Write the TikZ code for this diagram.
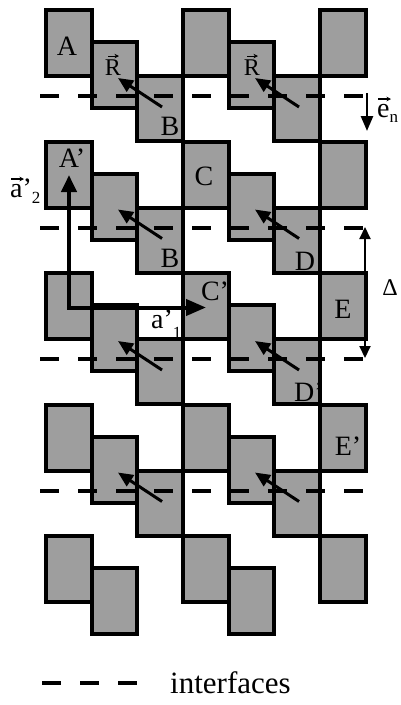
\documentclass[tikz,border=0pt]{standalone}
\usepackage{fontspec}
\setmainfont{Liberation Serif}
\usetikzlibrary{arrows.meta}
\begin{document}
\begin{tikzpicture}[x=1pt,y=-1pt,
  sq/.style={draw=black,line width=4pt,fill=black!38},
  iface/.style={line width=4pt,dash pattern=on 19pt off 19pt},
  rarrow/.style={line width=3pt,-{Triangle[length=15pt,width=13pt]}},
  lbl/.style={font=\fontsize{28}{28}\selectfont,inner sep=0pt,anchor=base},
  sublbl/.style={font=\fontsize{17}{17}\selectfont,inner sep=0pt,anchor=base west},
  vecmark/.style={line width=1.1pt,-{Stealth[length=4.5pt,width=4.5pt]}},
]
\useasboundingbox (0,0) rectangle (401,705);
% squares
\foreach \r in {0,...,4}{
  \pgfmathsetmacro{\yy}{10+131.5*\r}
  \foreach \c in {0,1}{
    \pgfmathsetmacro{\xx}{46+137*\c}
    \draw[sq] (\xx,\yy) rectangle ++(46,66);
    \draw[sq] (\xx+46,\yy+32) rectangle ++(45,66);
    \ifnum\r<4 \draw[sq] (\xx+91,\yy+66) rectangle ++(46,65); \fi
  }
  \draw[sq] (320,\yy) rectangle ++(46,66);
}
% interfaces
\foreach \k in {0,...,3}{
  \coordinate (il\k) at (40,{96+131.5*\k});
  \coordinate (ir\k) at (364,{96+131.5*\k});
  \draw[iface] (il\k) -- (ir\k);
}
% R arrows
\foreach \r in {0,...,3}{
  \foreach \c in {0,1}{
    \coordinate (rt\r\c) at ({162+137*\c},{107+131.5*\r});
    \coordinate (rh\r\c) at ({118+137*\c},{78+131.5*\r});
    \draw[rarrow] (rt\r\c) -- (rh\r\c);
  }
}
% lattice vectors
\coordinate (O) at (69,307.5);
\coordinate (a2) at (69,175);
\coordinate (a1) at (206,307.5);
\draw[line width=4pt,{Triangle[length=17pt,width=15pt]}-{Triangle[length=20pt,width=16pt]}] (a2) -- (O) -- (a1);
% e_n
\coordinate (en1) at (367,93);
\coordinate (en2) at (367,131);
\draw[line width=2.5pt,-{Triangle[length=15pt,width=12pt]}] (en1) -- (en2);
% Delta
\coordinate (d1) at (365,227);
\coordinate (d2) at (365,358);
\draw[line width=2pt,{Triangle[length=12pt,width=11pt]}-{Triangle[length=12pt,width=11pt]}] (d1) -- (d2);
% labels
\node[lbl] (lA) at (67,55) {A};
\node[lbl] (lAp) at (72,167) {A'};
\node[lbl] (lB1) at (170,135) {B};
\node[lbl] (lB2) at (170,267) {B};
\node[lbl] (lC) at (204,185) {C};
\node[lbl] (lCp) at (215,300) {C'};
\node[lbl] (lD) at (305,270) {D};
\node[lbl] (lDp) at (309,401) {D'};
\node[lbl] (lE) at (343,318) {E};
\node[lbl] (lEp) at (348,455) {E'};
\node[lbl,font=\fontsize{24}{24}\selectfont] (lR1) at (113,75) {R};
\node[lbl,font=\fontsize{24}{24}\selectfont] (lR2) at (252,75) {R};
\draw[vecmark] ([xshift=-5pt,yshift=3pt]lR1.north) -- ([xshift=6pt,yshift=3pt]lR1.north);
\draw[vecmark] ([xshift=-5pt,yshift=3pt]lR2.north) -- ([xshift=6pt,yshift=3pt]lR2.north);
\node[lbl,anchor=base west] (la2) at (10,197) {a'\raisebox{-6pt}{\fontsize{17}{17}\selectfont 2}};
\draw[vecmark] (11,179) -- (24,179);
\node[lbl,anchor=base west] (la1) at (151,328) {a'\raisebox{-10pt}{\fontsize{17}{17}\selectfont 1}};
\node[lbl,anchor=base west] (le) at (377,117) {e\raisebox{-5pt}{\fontsize{17}{17}\selectfont n}};
\draw[vecmark] (378,99) -- (391,99);
\node[lbl,font=\fontsize{24}{24}\selectfont] (lDelta) at (390,295) {Δ};
% legend
\coordinate (lg1) at (42,683);
\coordinate (lg2) at (137,683);
\draw[iface] (lg1) -- (lg2);
\node[lbl,anchor=base west,font=\fontsize{31}{31}\selectfont] (linterf) at (170,693) {interfaces};
\end{tikzpicture}
\end{document}
